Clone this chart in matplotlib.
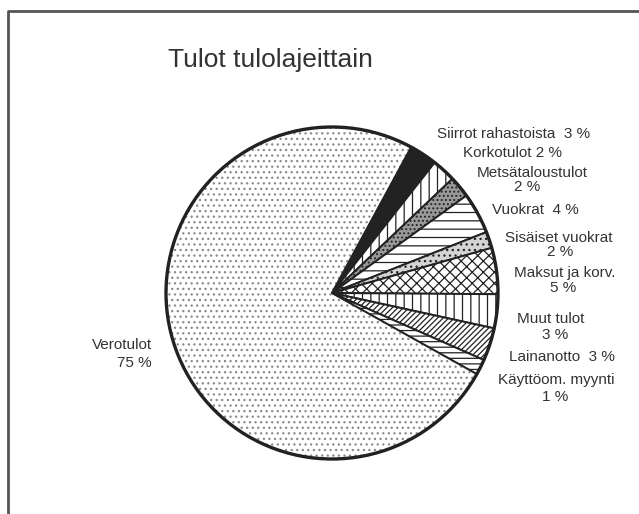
"""Tulot tulolajeittain - pie chart of income by type."""
import matplotlib
matplotlib.use("Agg")
import matplotlib.pyplot as plt

plt.rcParams["font.family"] = ["Liberation Sans", "DejaVu Sans"]
plt.rcParams["hatch.linewidth"] = 0.9

# clockwise from the top-right edge of the big slice
labels = ["Siirrot rahastoista", "Korkotulot", "Metsätaloustulot", "Vuokrat",
          "Sisäiset vuokrat", "Maksut ja korv.", "Muut tulot", "Lainanotto",
          "Käyttöom. myynti", "Verotulot"]
shares = [2.7, 2.3, 2.1, 4.0, 1.6, 4.5, 3.3, 3.2, 1.5, 74.8]
pct_text = ["3 %", "2 %", "2 %", "4 %", "2 %", "5 %", "3 %", "3 %", "1 %", "75 %"]

faces = ["#222222", "white", "#9a9a9a", "white", "#d4d4d4", "white",
         "white", "white", "white", "white"]
hatches = [None, "||", "....", "--", "...", "xxx", "||", "//////", "---", "..."]

fig = plt.figure(figsize=(6.39, 5.14), dpi=100)
ax = fig.add_axes([0, 0, 1, 1])

cx, cy, r = 332, 221, 166
wedges, _ = ax.pie(shares, center=(cx, cy), radius=r, startangle=61.5,
                   counterclock=False, colors=faces,
                   wedgeprops=dict(edgecolor="#222222", linewidth=1.4))
for w, h in zip(wedges, hatches):
    if h:
        w.set_hatch(h)
# big slice: faint grey dots, outline supplied by neighbours and the rim
wedges[-1].set_edgecolor("#8a8a8a")
wedges[-1].set_zorder(0)
ax.add_patch(plt.Circle((cx, cy), r, fill=False, edgecolor="#222222", lw=2.4))

ax.set_xlim(0, 639)
ax.set_ylim(0, 514)
ax.set_aspect("equal")
ax.axis("off")

# frame (only left and top edges show in the scan)
ax.plot([8, 8, 639], [0, 503, 503], color="#555555", lw=2)

ax.text(270, 454, "Tulot tulolajeittain", ha="center", va="center",
        fontsize=19, color="#333333")

# label placement (x, y, alignment) – layout only
fs = 11
tc = "#333333"
ax.text(590, 380, f"{labels[0]}  {pct_text[0]}", ha="right", va="center", fontsize=fs, color=tc)
ax.text(562, 361, f"{labels[1]} {pct_text[1]}", ha="right", va="center", fontsize=fs, color=tc)
ax.text(532, 341, labels[2], ha="center", va="center", fontsize=fs, color=tc)
ax.text(527, 327, pct_text[2], ha="center", va="center", fontsize=fs, color=tc)
ax.text(579, 304, f"{labels[3]}  {pct_text[3]}", ha="right", va="center", fontsize=fs, color=tc)
ax.text(559, 276, labels[4], ha="center", va="center", fontsize=fs, color=tc)
ax.text(560, 262, pct_text[4], ha="center", va="center", fontsize=fs, color=tc)
ax.text(565, 241, labels[5], ha="center", va="center", fontsize=fs, color=tc)
ax.text(563, 226, pct_text[5], ha="center", va="center", fontsize=fs, color=tc)
ax.text(551, 195, labels[6], ha="center", va="center", fontsize=fs, color=tc)
ax.text(555, 179, pct_text[6], ha="center", va="center", fontsize=fs, color=tc)
ax.text(615, 157, f"{labels[7]}  {pct_text[7]}", ha="right", va="center", fontsize=fs, color=tc)
ax.text(556, 134, labels[8], ha="center", va="center", fontsize=fs, color=tc)
ax.text(555, 117, pct_text[8], ha="center", va="center", fontsize=fs, color=tc)
ax.text(152, 169, labels[9], ha="right", va="center", fontsize=fs, color=tc)
ax.text(152, 151, pct_text[9], ha="right", va="center", fontsize=fs, color=tc)

fig.savefig("out.png", dpi=100, facecolor="white")
